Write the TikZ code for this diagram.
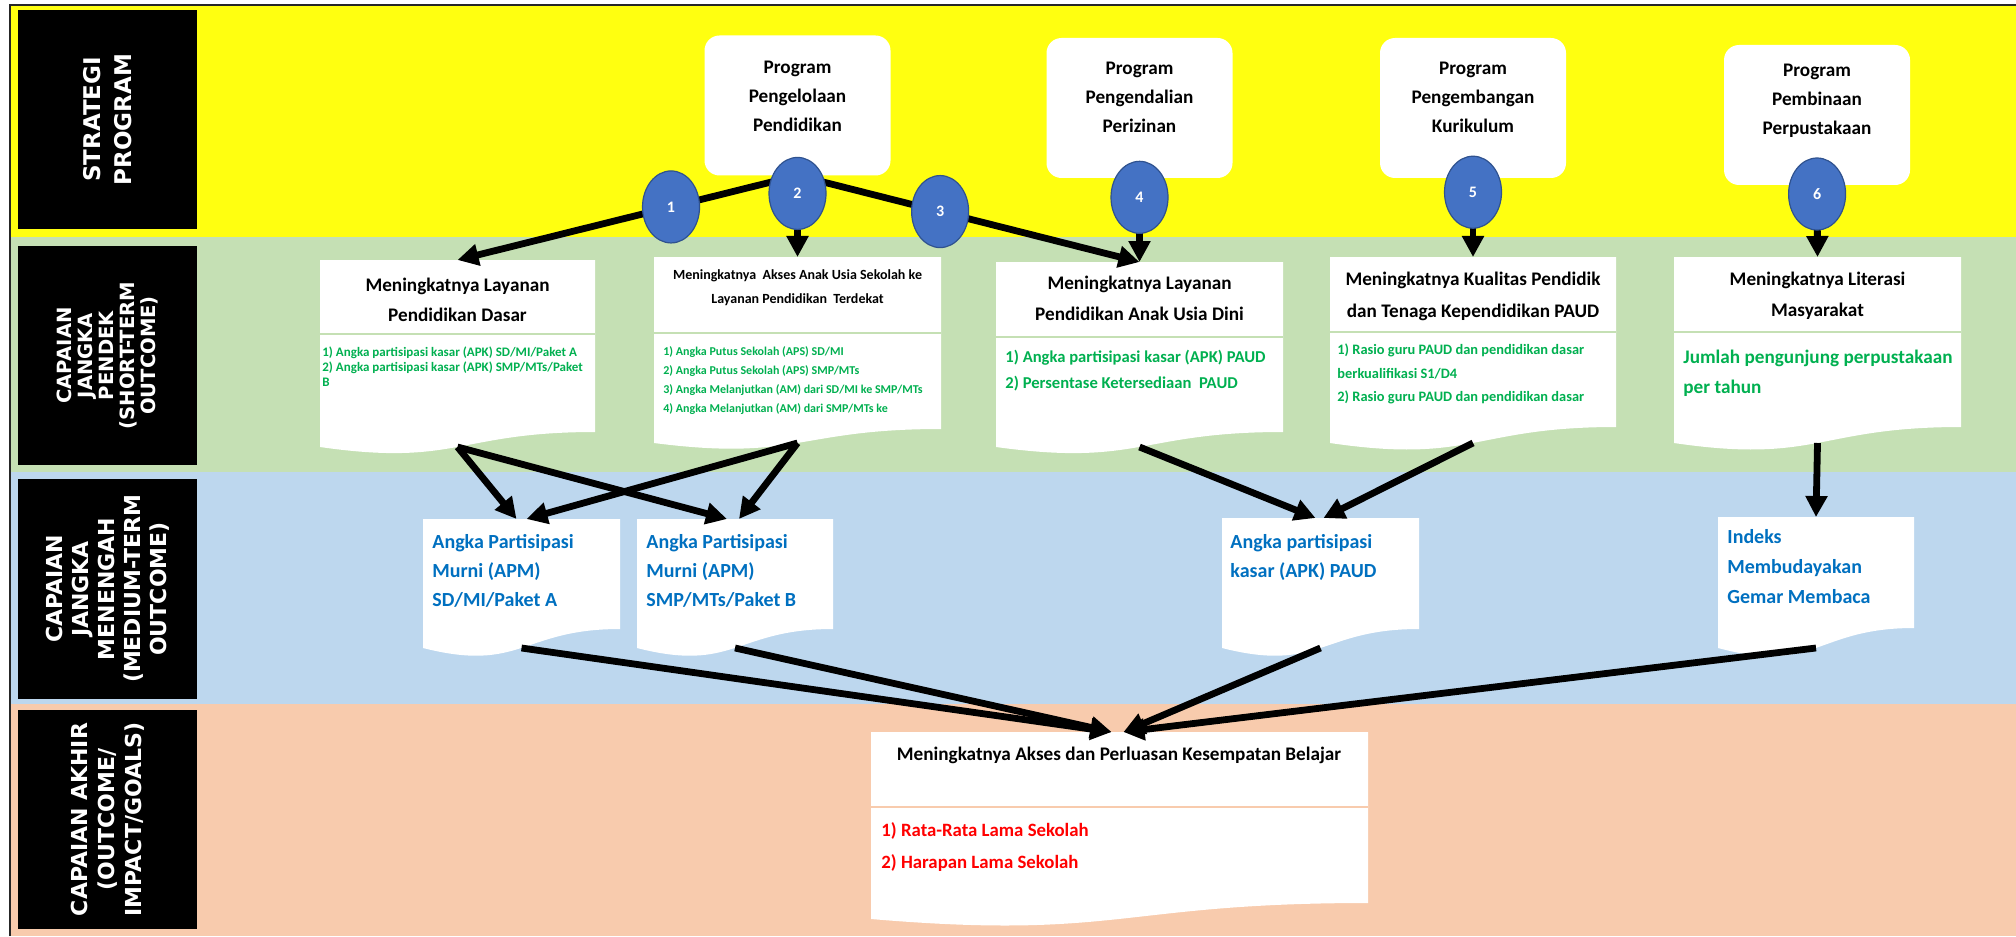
\documentclass[tikz,border=0pt]{standalone}
\usepackage{fontspec}
\setmainfont{Carlito}
\newfontfamily\bandfont{DejaVu Sans}
\usetikzlibrary{arrows.meta,calc,shapes.geometric}

\definecolor{bandY}{RGB}{255,255,16}
\definecolor{bandG}{RGB}{197,224,180}
\definecolor{bandB}{RGB}{189,215,238}
\definecolor{bandO}{RGB}{248,203,173}
\definecolor{circFill}{RGB}{68,114,196}
\definecolor{circLine}{RGB}{47,82,143}
\definecolor{txtGreen}{RGB}{0,176,80}
\definecolor{txtBlue}{RGB}{0,112,192}
\definecolor{txtRed}{RGB}{255,0,0}

\tikzset{
  lblbox/.style={fill=black, minimum width=89.5pt, inner sep=0pt, outer sep=0pt},
  lbltext/.style={text=white, align=center, inner sep=0pt, rotate=90},
  progbox/.style={fill=white, rounded corners=7.5pt, minimum width=93pt, minimum height=70pt, inner sep=0pt, outer sep=0pt},
  progtext/.style={align=center, inner sep=0pt, font=\bfseries\fontsize{9.6}{14.5}\selectfont},
  holder/.style={rectangle, inner sep=0pt, outer sep=0pt},
  ttl/.style={align=center, inner sep=0pt, font=\bfseries\fontsize{9.6}{15.5}\selectfont},
  lst/.style={align=left, anchor=north west, inner sep=0pt},
  numc/.style={ellipse, fill=circFill, draw=circLine, line width=0.6pt, minimum width=28.5pt,
    minimum height=36pt, inner sep=0pt, text=white, font=\bfseries\fontsize{8}{9}\selectfont},
  arr/.style={line width=3.4pt, -{Triangle[length=10.5pt,width=10.5pt]}},
}

% document-shaped box: name, left, right, top, right-bottom, left-bottom (pixel units)
\newcommand\mkdoc[6]{%
  \node[holder, minimum width={(#3-#2)*0.5pt}, minimum height={(#5-#4)*0.5pt}] (#1) at ({(#2+#3)/2},{(#4+#5)/2}) {};
  \fill[white] (#1.north west) -- (#1.north east) -- (#1.south east)
    .. controls (#1.south) and ($(#1.south)+(0,{2.32*(#6-#5)})$) .. ($(#1.south west)+(0,{#6-#5})$) -- cycle;
  \coordinate (#1b) at ($(#1.south)+(0,{#6-#5})$);
}

\begin{document}
\begin{tikzpicture}[x=0.5pt,y=-0.5pt]
\useasboundingbox (0,0) rectangle (2016,936);
\fill[white] (0,0) rectangle (2016,936);

% horizontal bands
\fill[bandY] (10,5) rectangle (2016,237);
\fill[bandG] (10,237) rectangle (2016,472);
\fill[bandB] (10,472) rectangle (2016,704);
\fill[bandO] (10,704) rectangle (2016,936);
\draw[line width=0.8pt, black!85] (10,936) -- (10,5) -- (2016,5);

% band labels
\node[lblbox, minimum height=109.5pt] (lab1) at (107.5,119.5) {};
\node[lbltext, font=\bandfont\bfseries\fontsize{11.5}{15.5}\selectfont] (lab1t) at (lab1.center) {STRATEGI\\PROGRAM};
\node[lblbox, minimum height=109.5pt] (lab2) at (107.5,355.5) {};
\node[lbltext, font=\bandfont\bfseries\fontsize{9.8}{10.4}\selectfont] (lab2t) at (lab2.center) {CAPAIAN\\JANGKA\\PENDEK\\(SHORT-TERM\\OUTCOME)};
\node[lblbox, minimum height=110pt] (lab3) at (107.5,589) {};
\node[lbltext, font=\bandfont\bfseries\fontsize{11}{13}\selectfont] (lab3t) at (lab3.center) {CAPAIAN\\JANGKA\\MENENGAH\\(MEDIUM-TERM\\OUTCOME)};
\node[lblbox, minimum height=109.5pt] (lab4) at (107.5,819.5) {};
\node[lbltext, font=\bandfont\bfseries\fontsize{11}{13.5}\selectfont] (lab4t) at (lab4.center) {CAPAIAN AKHIR\\(OUTCOME/\\IMPACT/GOALS)};

% programmes
\node[progbox] (p1) at (797.5,105.5) {};
\node[progtext] (p1t) at (797.5,96) {Program\\Pengelolaan\\Pendidikan};
\node[progbox] (p2) at (1139.5,108) {};
\node[progtext] (p2t) at (1139.5,97) {Program\\Pengendalian\\Perizinan};
\node[progbox] (p3) at (1473,108) {};
\node[progtext] (p3t) at (1473,97) {Program\\Pengembangan\\Kurikulum};
\node[progbox] (p4) at (1817,115) {};
\node[progtext] (p4t) at (1817,101) {Program\\Pembinaan\\Perpustakaan};

% outcome boxes
\mkdoc{s1}{320}{595}{260}{432}{447}
\mkdoc{s2}{654}{941}{257}{429}{443}
\mkdoc{s3}{996}{1283}{262}{432}{447}
\mkdoc{s4}{1330}{1616}{257}{427}{443}
\mkdoc{s5}{1674}{1961}{257}{427}{443}
\mkdoc{m1}{423}{620}{519}{629}{648}
\mkdoc{m2}{637}{833}{519}{629}{648}
\mkdoc{m3}{1222}{1419}{518}{629}{648}
\mkdoc{m4}{1718}{1914}{517}{628}{648}
\mkdoc{fin}{871}{1368}{732}{903}{919}

% dividers between title and indicator parts
\draw[bandG, line width=1pt] (320,334) -- (595,334);
\draw[bandG, line width=1pt] (654,333) -- (941,333);
\draw[bandG, line width=1pt] (996,337) -- (1283,337);
\draw[bandG, line width=1pt] (1330,332) -- (1616,332);
\draw[bandG, line width=1pt] (1674,332) -- (1961,332);
\draw[bandO, line width=1pt] (871,807) -- (1368,807);

% titles
\node[ttl, font=\bfseries\fontsize{9.6}{15}\selectfont] (s1t) at (457.5,300) {Meningkatnya Layanan\\Pendidikan Dasar};
\node[ttl, font=\bfseries\fontsize{7}{12}\selectfont] (s2t) at (797.5,288) {Meningkatnya~ Akses Anak Usia Sekolah ke\\Layanan Pendidikan~ Terdekat};
\node[ttl] (s3t) at (1139.5,298) {Meningkatnya Layanan\\Pendidikan Anak Usia Dini};
\node[ttl, font=\bfseries\fontsize{9.6}{16}\selectfont] (s4t) at (1473,296) {Meningkatnya Kualitas Pendidik\\dan Tenaga Kependidikan PAUD};
\node[ttl] (s5t) at (1817.5,295.5) {Meningkatnya Literasi\\Masyarakat};
\node[ttl] (fint) at (1119,755) {Meningkatnya Akses dan Perluasan Kesempatan Belajar};

% indicators
\node[lst, text=txtGreen, font=\bfseries\fontsize{6.5}{7.5}\selectfont] (s1l) at (322,345.4)
  {\strut 1) Angka partisipasi kasar (APK) SD/MI/Paket A\\2) Angka partisipasi kasar (APK) SMP/MTs/Paket\\B};
\node[lst, text=txtGreen, font=\bfseries\fontsize{6}{9.5}\selectfont] (s2l) at (663,341.3)
  {\strut 1) Angka Putus Sekolah (APS) SD/MI\\2) Angka Putus Sekolah (APS) SMP/MTs\\3) Angka Melanjutkan (AM) dari SD/MI ke SMP/MTs\\4) Angka Melanjutkan (AM) dari SMP/MTs ke};
\node[lst, text=txtGreen, font=\bfseries\fontsize{8.3}{13}\selectfont] (s3l) at (1005,343.8)
  {\strut 1) Angka partisipasi kasar (APK) PAUD\\2) Persentase Ketersediaan~ PAUD};
\node[lst, text=txtGreen, font=\bfseries\fontsize{7.2}{11.75}\selectfont] (s4l) at (1337,337.9)
  {\strut 1) Rasio guru PAUD dan pendidikan dasar\\berkualifikasi S1/D4\\2) Rasio guru PAUD dan pendidikan dasar};
\node[lst, text=txtGreen, font=\bfseries\fontsize{9.6}{15}\selectfont] (s5l) at (1683,341.8)
  {\strut Jumlah pengunjung perpustakaan\\per tahun};
\node[lst, text=txtBlue, font=\bfseries\fontsize{10}{14.5}\selectfont] (m1l) at (432,527.7)
  {\strut Angka Partisipasi\\Murni (APM)\\SD/MI/Paket A};
\node[lst, text=txtBlue, font=\bfseries\fontsize{10}{14.5}\selectfont] (m2l) at (646,527.7)
  {\strut Angka Partisipasi\\Murni (APM)\\SMP/MTs/Paket B};
\node[lst, text=txtBlue, font=\bfseries\fontsize{10}{14.5}\selectfont] (m3l) at (1230,527.7)
  {\strut Angka partisipasi\\kasar (APK) PAUD};
\node[lst, text=txtBlue, font=\bfseries\fontsize{10}{15}\selectfont] (m4l) at (1727,522)
  {\strut Indeks\\Membudayakan\\Gemar Membaca};
\node[lst, text=txtRed, font=\bfseries\fontsize{9.4}{16}\selectfont] (finl) at (881,813.2)
  {\strut 1) Rata-Rata Lama Sekolah\\2) Harapan Lama Sekolah};

% programme -> short-term outcome
\draw[arr] (p1.south) -- (s1.north);
\draw[arr] (p1.south) -- (s2.north);
\draw[arr] (p1.south) -- (s3.north);
\draw[arr] (p2.south) -- (s3.north);
\draw[arr] (p3.south) -- (s4.north);
\draw[arr] (p4.south) -- (s5.north);

% numbered markers on the programme links
\path (p1.south) -- (s1.north) node[numc, pos=0.372] (e1) {1};
\path (p1.south) -- (s2.north) node[numc, pos=0.22] (e2) {2};
\path (p1.south) -- (s3.north) node[numc, pos=0.417] (e3) {3};
\path (p2.south) -- (s3.north) node[numc, pos=0.23] (e4) {4};
\path (p3.south) -- (s4.north) node[numc, pos=0.18] (e5) {5};
\path (p4.south) -- (s5.north) node[numc, pos=0.125] (e6) {6};

% short-term -> medium-term
\draw[arr] (s1b) -- ($(m1.north)+(-5,0)$);
\draw[arr] (s2b) -- ($(m1.north)+(5,0)$);
\draw[arr] (s1b) -- ($(m2.north)+(-8,0)$);
\draw[arr] (s2b) -- ($(m2.north)+(4,0)$);
\draw[arr] (s3b) -- ($(m3.north)+(-5,0)$);
\draw[arr] (s4b) -- ($(m3.north)+(3,0)$);
\draw[arr] (s5b) -- (m4.north);

% medium-term -> final outcome
\draw[arr] (m1b) -- ($(fin.north)+(-8,0)$);
\draw[arr] (m2b) -- ($(fin.north)+(-8,0)$);
\draw[arr] (m3b) -- ($(fin.north)+(4,0)$);
\draw[arr] (m4b) -- ($(fin.north)+(4,0)$);
\end{tikzpicture}
\end{document}
